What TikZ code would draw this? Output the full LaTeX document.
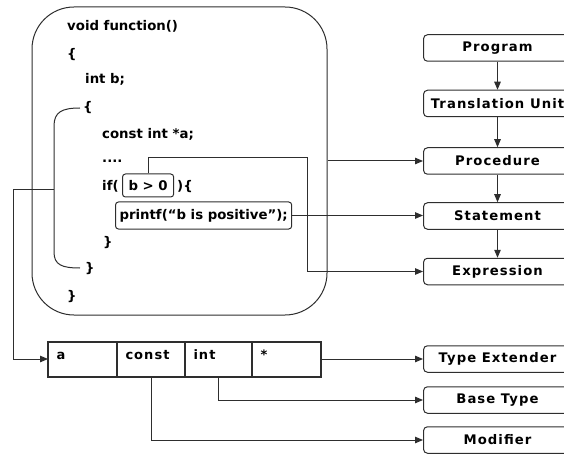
\documentclass[tikz,border=0pt]{standalone}
\usepackage{fontspec}
\usetikzlibrary{arrows.meta,calc}
\newfontfamily\codefont{DejaVu Sans}
\newfontfamily\labelfont[LetterSpace=8]{DejaVu Sans}
\definecolor{ink}{gray}{0.18}
\begin{document}
\begin{tikzpicture}[x=1pt,y=-1pt,
  codeline/.style={anchor=base west,inner sep=0pt,font=\codefont\bfseries\fontsize{13.3}{15}\selectfont,text=black},
  codebox/.style={draw=ink,line width=1pt,rounded corners=3pt,inner ysep=0pt,minimum height=23pt,anchor=west,
    font=\codefont\bfseries\fontsize{13.3}{15}\selectfont},
  catbox/.style={draw=ink,line width=1pt,rounded corners=4pt,minimum width=148pt,minimum height=26.5pt,
    inner sep=0pt,anchor=west,font=\labelfont\bfseries\fontsize{13.2}{15}\selectfont},
  cell/.style={draw=ink,line width=1pt,anchor=west,inner xsep=8pt,inner ysep=0pt,text height=17pt,text depth=17pt,
    align=left,font=\labelfont\bfseries\fontsize{13}{15}\selectfont},
  conn/.style={draw=ink,line width=1pt},
  arr/.style={conn,-{Triangle[length=8pt,width=6.5pt]}}]
\useasboundingbox (0,0) rectangle (564,454);

% function body frame
\node[draw=ink,line width=1pt,rounded corners=42pt,minimum width=295pt,minimum height=308pt,inner sep=0pt]
  (fn) at (179.5,161) {};

% source lines
\node[codeline] (l1) at (67,31) {void function()};
\node[codeline] (l2) at (67,59) {\{};
\node[codeline] (l3) at (85,84) {int b;};
\node[codeline] (l4) at (83,112) {\{};
\node[codeline] (l5) at (102,139) {const int *a;};
\node[codeline] (l6) at (102,163) {....};
\node[codeline] (l7) at (102,191) {if(};
\node[codebox,inner xsep=6pt] (cond) at (122,185.5) {b > 0};
\node[codeline] (l8) at (177,191) {)\{};
\node[codebox,inner xsep=4pt,minimum height=27pt] (pf) at (115,215.5) {printf(“b is positive”);};
\node[codeline] (l9) at (103,246) {\}};
\node[codeline] (l10) at (85,272) {\}};
\node[codeline] (l11) at (67,300) {\}};

% bracket around the inner block
\coordinate (brk) at (54,190);
\draw[conn] (80,108) .. controls (62,108) and (54,112) .. (54,126) -- (54,252)
  .. controls (54,265) and (62,268) .. (80,268);

% hierarchy of program units
\node[catbox] (prog) at (423,48) {Program};
\node[catbox] (tu) at (423,103.5) {Translation Unit};
\node[catbox] (proc) at (423,161) {Procedure};
\node[catbox] (stmt) at (423,216) {Statement};
\node[catbox] (expr) at (423,271.5) {Expression};

\draw[arr] (prog) -- (tu);
\draw[arr] (tu) -- (proc);
\draw[arr] (proc) -- (stmt);
\draw[arr] (stmt) -- (expr);

% declaration table
\node[cell,minimum width=68pt,text width=52pt] (c1) at (48,359) {a};
\node[cell,minimum width=67pt,text width=51pt] (c2) at (c1.east) {const};
\node[cell,minimum width=66pt,text width=50pt] (c3) at (c2.east) {int};
\node[cell,minimum width=68pt,text width=52pt] (c4) at (c3.east) {*};
\draw[ink,line width=2pt] (c1.north west) rectangle (c4.south east);

% declaration parts
\node[catbox] (te) at (423,359) {Type Extender};
\node[catbox] (bt) at (423,400) {Base Type};
\node[catbox] (mod) at (423,440) {Modifier};

% connectors
\coordinate (bend) at (307,158);
\draw[arr] (fn.east) -- (proc.west);
\draw[arr] (pf.east) -- (pf.east -| stmt.west);
\draw[arr] (cond.north) |- (bend) |- (expr.west);
\draw[arr] (brk) -- (13,190) |- (c1.west);
\draw[arr] (c4.east) -- (te.west);
\draw[arr] (c3.south) |- (bt.west);
\draw[arr] (c2.south) |- (mod.west);
\end{tikzpicture}
\end{document}
